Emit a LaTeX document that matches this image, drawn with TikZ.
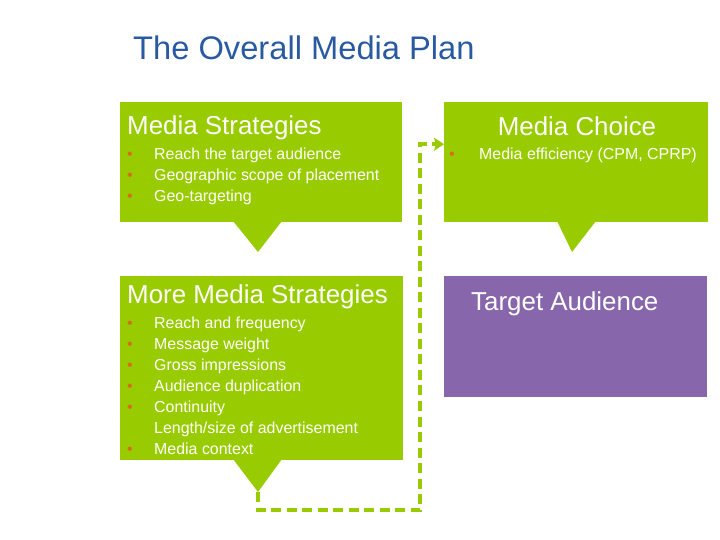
\documentclass[tikz,border=0pt]{standalone}
\usepackage{fontspec}
\setmainfont{Liberation Sans}
\usepackage{xcolor}
\usepackage{tikz}
\usetikzlibrary{arrows.meta,positioning}
\definecolor{planblue}{RGB}{41,90,160}
\definecolor{plangreen}{RGB}{153,204,0}
\definecolor{planpurple}{RGB}{135,102,172}
\definecolor{planbullet}{RGB}{214,110,30}
\newcommand{\bul}[1][27bp]{\makebox[#1][l]{\textcolor{planbullet}{\textbullet}}}
\newcommand{\nobul}{\hspace*{27bp}}

\begin{document}
\begin{tikzpicture}[x=1bp,y=-1bp,
panel/.style={anchor=north west,inner sep=0,minimum width=#1},
head/.style={anchor=base west,inner sep=0,text=white,font=\fontsize{26}{30}\selectfont},
item/.style={anchor=base west,inner sep=0,text=white,font=\fontsize{16}{21}\selectfont}]
\useasboundingbox (0,0) rectangle (720,540);
\node[anchor=base west,inner sep=0,text=planblue,font=\fontsize{32.8}{38}\selectfont] (plantitle) at (133,60) {The Overall Media Plan};
% media strategies
\node[panel=282bp,minimum height=120bp,fill=plangreen] (strat) at (120,102) {};
\fill[plangreen] (233,221)--(258,252)--(282,221)--cycle;
\node[head] (strathead) at (127,135) {Media Strategies};
\node[item] (strat1) at (127,160) {\bul Reach the target audience};
\node[item] (strat2) at (127,181) {\bul Geographic scope of placement};
\node[item] (strat3) at (127,202) {\bul Geo-targeting};
% media choice
\node[panel=264bp,minimum height=120bp,fill=plangreen] (choice) at (444,102) {};
\fill[plangreen] (557,221)--(572,252)--(596,221)--cycle;
\node[head,anchor=base] (choicehead) at (577,136) {Media Choice};
\node[item] (choice1) at (449,160) {\bul[30bp]Media efficiency (CPM, CPRP)};
% more media strategies
\node[panel=283bp,minimum height=184bp,fill=plangreen] (more) at (120,276) {};
\fill[plangreen] (233,459)--(258,492)--(282,459)--cycle;
\node[head] (morehead) at (127,303) {More Media Strategies};
\foreach \txt [count=\i] in {\bul Reach and frequency,\bul Message weight,\bul Gross impressions,
  \bul Audience duplication,\bul Continuity,\nobul Length/size of advertisement,\bul Media context}
  \node[item] (more\i) at (127,307+21*\i) {\txt};
% target audience
\node[panel=263bp,minimum height=121bp,fill=planpurple] (target) at (444,276) {};
\node[head] (targethead) at (471,310) {Target Audience};
% loop back
\coordinate (moretip) at (258,492);
\coordinate (loopturn) at (420,510);
\draw[plangreen,line width=3.8bp,dash pattern=on 10bp off 5.5bp,-{Stealth[length=10bp,width=13bp,inset=2bp]}]
  (moretip) |- (loopturn) |- ([yshift=18bp]choice.west);
\end{tikzpicture}
\end{document}
